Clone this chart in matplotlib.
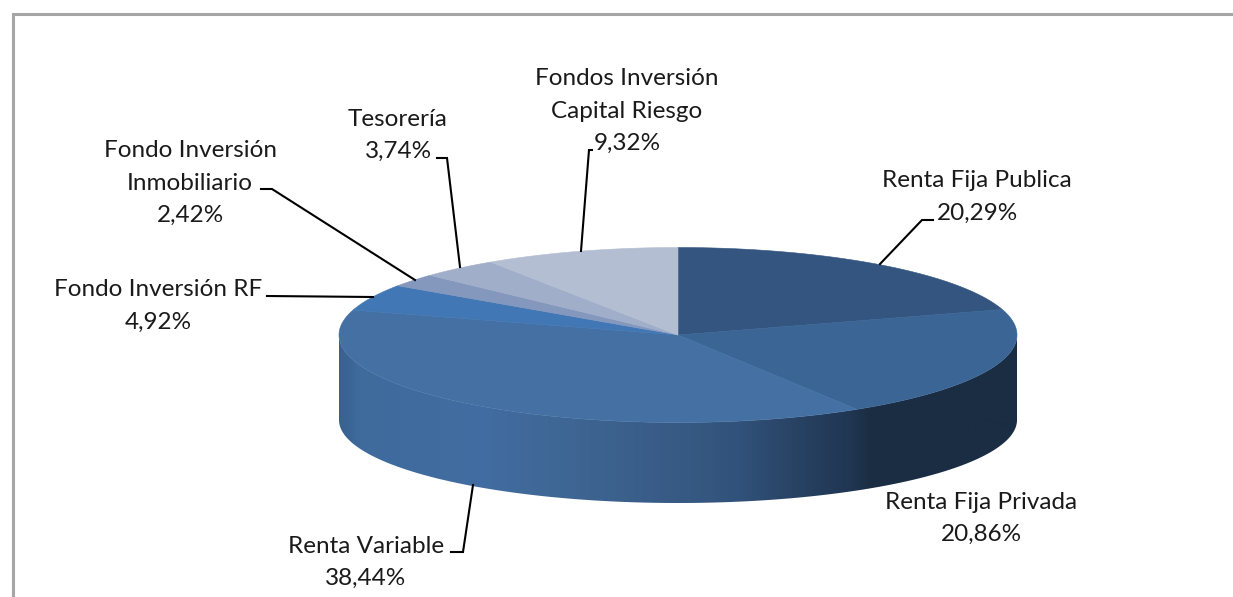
import numpy as np
import matplotlib
matplotlib.use("Agg")
import matplotlib.pyplot as plt
from matplotlib.colors import LinearSegmentedColormap
from matplotlib.patches import Polygon

plt.rcParams['font.family'] = ['Lato', 'DejaVu Sans']

labels = ["Renta Fija Publica", "Renta Fija Privada", "Renta Variable", "Fondo Inversión RF",
          "Fondo Inversión\nInmobiliario", "Tesorería", "Fondos Inversión\nCapital Riesgo"]
values = [20.29, 20.86, 38.44, 4.92, 2.42, 3.74, 9.32]
top_colors = ["#33557f", "#3a6595", "#4470a3", "#4077b4", "#8497bd", "#a0aeca", "#b4bed2"]

# pie geometry, in image pixels
cx, cy = 678, 335
rx, ry = 339, 87.5
base_cy, base_ry = 420, 83

wall_x = [340, 360, 480, 560, 680, 740, 790, 850, 870, 1018]
wall_c = ["#38618f", "#3f6a9c", "#426da2", "#3f6795", "#375a84", "#31527a",
          "#294466", "#203653", "#1a2d43", "#1a2d43"]


def ell(theta, yc=cy, ryy=ry):
    return cx + rx * np.sin(theta), yc - ryy * np.cos(theta)


fig = plt.figure(figsize=(12.33, 5.97), dpi=100)
ax = fig.add_axes([0, 0, 1, 1])

# chart frame, cut by the image on the right and at the bottom
ax.plot([13, 13, 1233], [597, 14, 14], color="#a6a6a6", lw=2.2, solid_joinstyle='miter')

# side wall: horizontal gradient clipped to the front half
stops = (np.array(wall_x) - wall_x[0]) / (wall_x[-1] - wall_x[0])
cmap = LinearSegmentedColormap.from_list("wall", list(zip(stops, wall_c)))
ts = np.linspace(np.pi / 2, 3 * np.pi / 2, 361)
tx, ty = ell(ts)
bx, by = ell(ts[::-1], base_cy, base_ry)
wall = Polygon(np.r_[np.c_[tx, ty], np.c_[bx, by]], closed=True, fc='none', ec='none')
ax.add_patch(wall)
grad = np.linspace(0, 1, 680).reshape(1, -1)
im = ax.imshow(grad, cmap=cmap, extent=(wall_x[0] - 2, wall_x[-1] + 2, 510, 320), aspect='auto')
im.set_clip_path(wall)

# top face
ends = np.cumsum(values) / np.sum(values) * 2 * np.pi
starts = np.r_[0, ends[:-1]]
for a, b, col in zip(starts, ends, top_colors):
    t = np.linspace(a, b, 200)
    x, y = ell(t)
    pts = np.r_[[(cx, cy)], np.c_[x, y]]
    ax.add_patch(Polygon(pts, closed=True, fc=col, ec=col, lw=0.4))

# leader lines
leaders = [
    ([880, 922, 933], [264, 220, 220]),
    ([473, 463, 451], [485, 552, 552]),
    ([373, 267], [297, 296]),
    ([415, 272, 261], [280, 189, 189]),
    ([460, 447, 437], [267, 158, 158]),
    ([581, 589, 592], [251, 150, 150]),
]
for xs, ys in leaders:
    ax.plot(xs, ys, color="black", lw=1.5, solid_joinstyle='miter')

# label text
pcts = [f"{v:.2f}%".replace(".", ",") for v in values]
label_pos = [(977, 197), (981, 518.5), (366, 562.5), (158, 306), (190, 183), (398, 135.5), (627, 111)]
for lab, pct, (lx, ly) in zip(labels, pcts, label_pos):
    ax.text(lx, ly, lab + "\n" + pct, ha='center', va='center', fontsize=17.5,
            color="#1a1a1a", linespacing=1.67)

ax.set_xlim(0, 1233)
ax.set_ylim(597, 0)
ax.axis('off')

fig.savefig("out.png", dpi=100)
